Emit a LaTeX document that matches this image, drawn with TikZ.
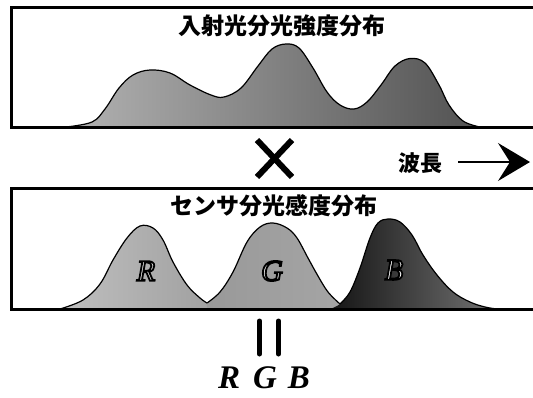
\documentclass[tikz,border=0pt]{standalone}
\usepackage{fontspec}
\setmainfont{Liberation Serif}
\newfontfamily\cjk{Noto Sans CJK JP}
\font\outfont="Liberation Serif Italic:embolden=6" at 30pt
\usetikzlibrary{arrows.meta}
\newcommand\myoutline[2]{\special{pdf:bcolor [#1] [0]}#2\special{pdf:ecolor}}
\tikzset{
  frame/.style={line width=3pt, black},
  curveline/.style={line width=1.2pt, black},
  title/.style={font=\cjk\bfseries\fontsize{23}{23}\selectfont, inner sep=0pt},
  peaklbl/.style={font=\outfont, inner sep=0pt},
  bigbar/.style={line width=5pt, line cap=round},
}
\begin{document}
\begin{tikzpicture}[x=1pt,y=-1pt]
\useasboundingbox[fill=white] (0,0) rectangle (533,397);

% ---------- top: incident light spectral intensity ----------
\shade[left color=black!30, middle color=black!42, right color=black!68]
  plot[smooth, tension=0.6] coordinates {(66,127) (92,122) (105,109) (119,88) (133,75) (150,70) (170,73) (190,85) (211,95) (224,97) (241,88) (258,66) (272,49) (286,44) (299,48) (313,68) (327,92) (340,105) (354,109) (367,102) (381,85) (395,66) (410,58.5) (425,63) (439,85) (449,105) (463,121) (480,127)} -- cycle;
\draw[curveline]
  plot[smooth, tension=0.6] coordinates {(66,127) (92,122) (105,109) (119,88) (133,75) (150,70) (170,73) (190,85) (211,95) (224,97) (241,88) (258,66) (272,49) (286,44) (299,48) (313,68) (327,92) (340,105) (354,109) (367,102) (381,85) (395,66) (410,58.5) (425,63) (439,85) (449,105) (463,121) (480,127)};
\draw[frame] (536,7) -- (11,7) -- (11,127) -- (536,127);
\node[title] (t1) at (282,26) {入射光分光強度分布};

% ---------- cross, wavelength arrow ----------
\coordinate (xa) at (257,140);
\coordinate (xb) at (292,177);
\coordinate (xc) at (292,140);
\coordinate (xd) at (257,177);
\draw[line width=6pt] (xa) -- (xb);
\draw[line width=6pt] (xc) -- (xd);
\node[title, font=\cjk\bfseries\fontsize{22}{22}\selectfont] (wl) at (420,163) {波長};
\coordinate (a0) at (458,162);
\coordinate (a1) at (530,162);
\draw[line width=1.5pt, -{Stealth[length=32pt, width=38pt, inset=12pt]}] (a0) -- (a1);

% ---------- bottom: sensor spectral sensitivity ----------
\shade[left color=black!25, right color=black!38]
  plot[smooth, tension=0.6] coordinates {(60,309) (83,300) (100,284) (113,260) (127,238) (140,226) (153,228) (163,240) (173,262) (187,285) (200,298) (207,303)} -- (222,309) -- cycle;
\shade[left color=black!40, middle color=black!25, right color=black!35]
  plot[smooth, tension=0.6] coordinates {(207,303) (220,292) (233,272) (247,242) (260,227) (273,223) (287,228) (297,238) (308,258) (318,276) (328,292) (340,304) (352,309)} -- (207,309) -- cycle;
\shade[left color=black!92, right color=black!55]
  plot[smooth, tension=0.6] coordinates {(330,309) (340,304) (350,292) (360,268) (370,238) (378,223) (388,219) (400,222) (412,235) (423,255) (437,275) (453,292) (470,302) (485,307) (497,309)} -- cycle;
\draw[curveline]
  plot[smooth, tension=0.6] coordinates {(60,309) (83,300) (100,284) (113,260) (127,238) (140,226) (153,228) (163,240) (173,262) (187,285) (200,298) (207,303)};
\draw[curveline]
  plot[smooth, tension=0.6] coordinates {(207,303) (220,292) (233,272) (247,242) (260,227) (273,223) (287,228) (297,238) (308,258) (318,276) (328,292) (340,304)};
\draw[curveline]
  plot[smooth, tension=0.6] coordinates {(340,304) (350,292) (360,268) (370,238) (378,223) (388,219) (400,222) (412,235) (423,255) (437,275) (453,292) (470,302) (485,307) (497,309)};
\draw[frame] (536,188) -- (11,188) -- (11,309) -- (536,309);
\node[title] (t2) at (274,206) {センサ分光感度分布};
\node[peaklbl] (lr) at (146,271) {\myoutline{0.85}{R}};
\node[peaklbl] (lg) at (272,271) {\myoutline{0.85}{G}};
\node[peaklbl] (lb) at (394,270) {\myoutline{1}{B}};

% ---------- equals and RGB ----------
\coordinate (e1a) at (259.5,321);
\coordinate (e1b) at (259.5,354);
\coordinate (e2a) at (278.5,321);
\coordinate (e2b) at (278.5,354);
\draw[bigbar] (e1a) -- (e1b);
\draw[bigbar] (e2a) -- (e2b);
\node[inner sep=0pt, font=\bfseries\itshape\fontsize{33}{33}\selectfont] (rgb) at (264,378) {R\hspace{13pt}G\hspace{11pt}B};
\end{tikzpicture}
\end{document}
